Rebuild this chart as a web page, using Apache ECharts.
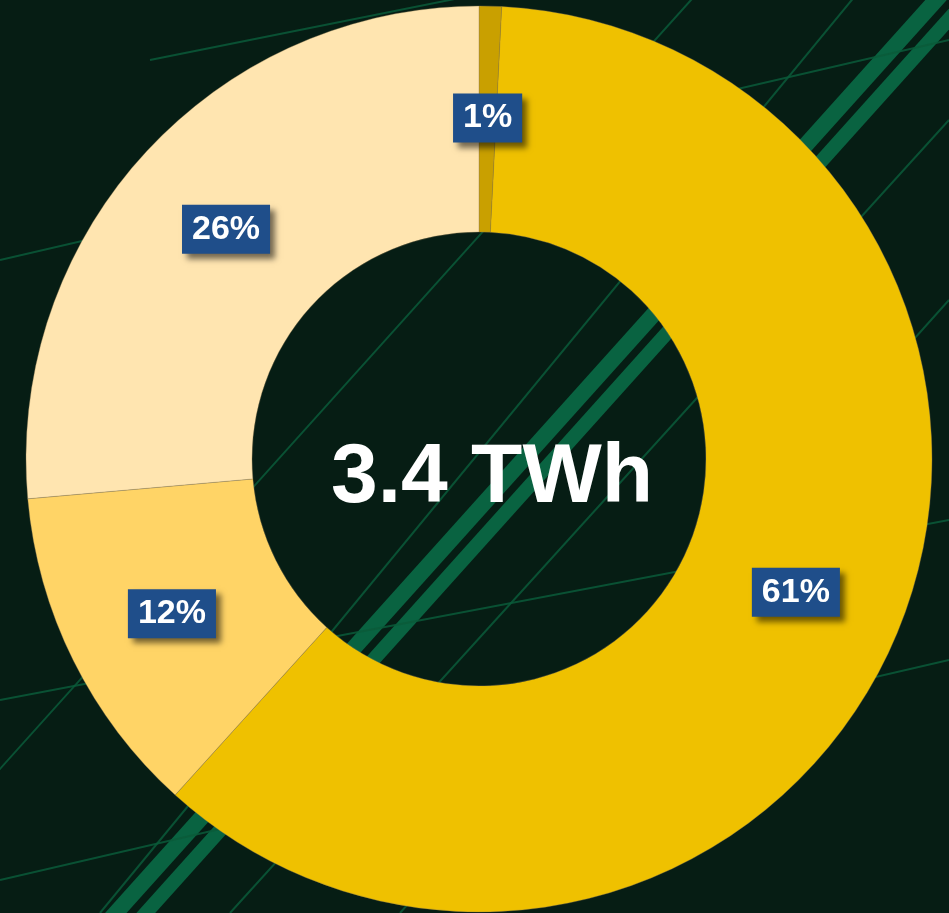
<!DOCTYPE html>
<html>
<head>
<meta charset="utf-8">
<script src="https://cdn.jsdelivr.net/npm/echarts@6/dist/echarts.min.js"></script>
<style>
html,body{margin:0;padding:0;background:#061d14;}
#chart{width:949px;height:913px;}
</style>
</head>
<body>
<div id="chart"></div>
<script>
const categories = ['Segment A', 'Segment B', 'Segment C', 'Segment D'];
const shares = [0.8, 60.9, 11.9, 26.4];
const sliceColors = ['#C9A000', '#EFC100', '#FFD466', '#FFE5B0'];
const centerLabel = '3.4 TWh';

const chart = echarts.init(document.getElementById('chart'));

const bandColor = '#0b7049';
const thinColor = '#0a5a3a';
function band(x1, y1, x2, y2, w, c) {
  return { type: 'line', z: -5, silent: true,
    shape: { x1, y1, x2, y2 },
    style: { stroke: c, lineWidth: w, opacity: 0.85 } };
}

option = {
  backgroundColor: '#061d14',
  graphic: [
    band(945, -10, 105, 925, 16, bandColor),
    band(975, -10, 135, 925, 14, bandColor),
    band(700, -10, -10, 780, 2, thinColor),
    band(860, -10, 100, 913, 2, thinColor),
    band(949, 120, 230, 913, 2, thinColor),
    band(949, 300, 400, 913, 2, thinColor),
    band(150, 60, 949, -100, 2, thinColor),
    band(0, 260, 949, 40, 2, thinColor),
    band(0, 700, 949, 520, 2, thinColor),
    band(0, 880, 949, 660, 2, thinColor),
    {
      type: 'text', z: 100, silent: true,
      left: 331, top: 437,
      style: {
        text: centerLabel,
        fill: '#ffffff',
        font: 'bold 84px "Liberation Sans", Arial, sans-serif'
      }
    }
  ],
  series: [{
    type: 'pie',
    center: [479, 459],
    radius: [227, 453],
    startAngle: 90,
    clockwise: true,
    avoidLabelOverlap: false,
    emphasis: { disabled: true },
    animation: false,
    itemStyle: { borderColor: 'rgba(140,120,80,0.6)', borderWidth: 0.6 },
    label: {
      show: true,
      position: 'inside',
      formatter: p => Math.round(p.value) + '%',
      color: '#ffffff',
      fontFamily: '"Liberation Sans", Arial, sans-serif',
      fontWeight: 'bold',
      fontSize: 34,
      lineHeight: 34,
      backgroundColor: '#1F4E8A',
      padding: [8, 10, 7, 10],
      offset: [0, 2],
      shadowColor: 'rgba(0,0,0,0.55)',
      shadowBlur: 6,
      shadowOffsetX: 5,
      shadowOffsetY: 5
    },
    labelLine: { show: false },
    data: categories.map((c, i) => ({
      name: c, value: shares[i], itemStyle: { color: sliceColors[i] }
    }))
  }]
};
chart.setOption(option);
</script>
</body>
</html>
